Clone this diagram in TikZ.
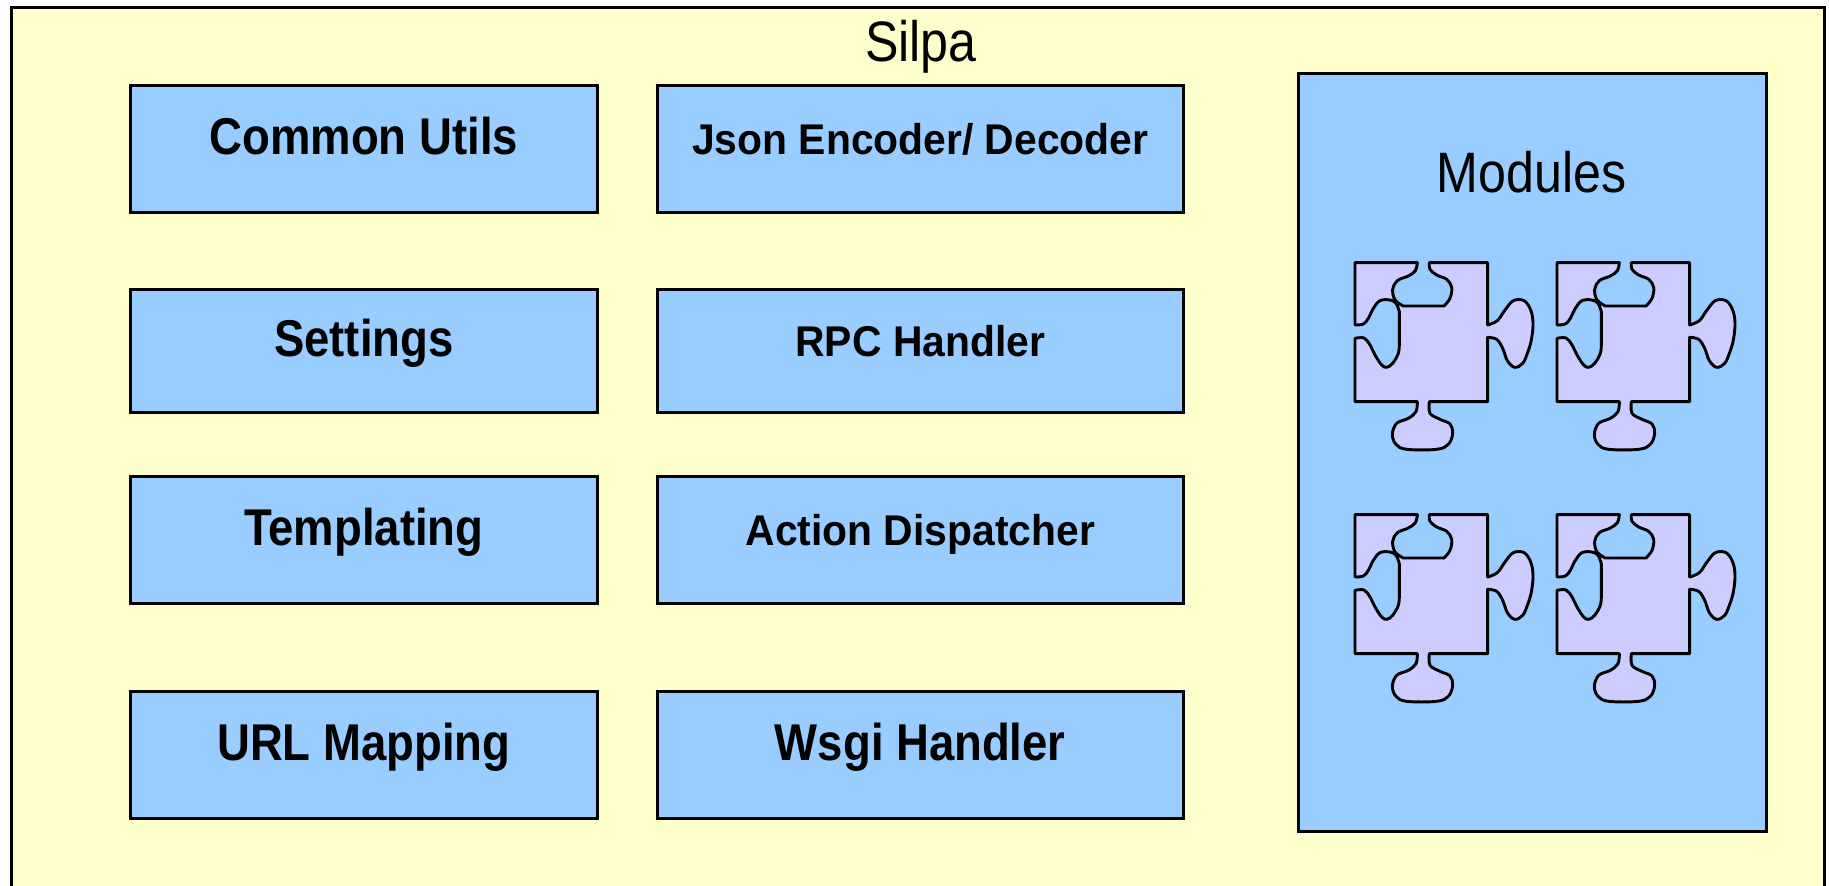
\documentclass[tikz,border=0pt]{standalone}
\usepackage{fontspec}
\usepackage{graphicx}
\setmainfont{Liberation Sans}
\definecolor{bgyellow}{HTML}{FFFFCC}
\definecolor{boxblue}{HTML}{99CCFF}
\definecolor{piecefill}{HTML}{CCCCFF}
\newcommand{\bigtxt}[1]{\scalebox{0.88}[1]{\fontsize{25.85}{30}\selectfont\bfseries #1}}
\newcommand{\smalltxt}[1]{\scalebox{0.95}[1]{\fontsize{21.5}{26}\selectfont\bfseries #1}}
\newcommand{\titletxt}[1]{\scalebox{0.88}[1]{\fontsize{28.5}{34}\selectfont #1}}
\tikzset{
  comp/.style={draw=black, line width=1.3pt, fill=boxblue, rectangle, inner sep=0pt, anchor=north west},
  leftcol/.style={minimum width=233.5pt},
  midcol/.style={minimum width=263pt},
  rowbox/.style={minimum height=63.5pt},
  lbl/.style={anchor=base, inner sep=0pt},
  piece/.style={draw=black, line width=1.45pt, fill=piecefill, line join=round},
  puzzle/.pic={
    \begin{scope}[scale=0.33333]
    \path[piece] (45,38) -- (232,38)
      -- plot[smooth, tension=0.6] coordinates {(232,38) (226,62) (205,78) (172,92) (158,118) (165,150) (190,168)}
      -- (312,168)
      -- plot[smooth, tension=0.6] coordinates {(312,168) (330,145) (335,112) (320,88) (290,75) (270,58) (268,38)}
      -- (443,38) -- (443,225)
      -- plot[smooth, tension=0.6] coordinates {(443,225) (472,212) (495,180) (520,152) (552,152) (572,180) (579,220) (574,270) (562,310) (548,340) (524,352) (502,332) (488,295) (470,268) (443,262)}
      -- (443,455) -- (268,455)
      -- plot[smooth, tension=0.6] coordinates {(268,455) (270,490) (300,508) (330,522) (338,550) (325,583) (290,598) (200,598) (168,583) (157,553) (170,520) (205,505) (228,485) (232,455)}
      -- (45,455) -- (45,265)
      -- plot[smooth, tension=0.6] coordinates {(45,265) (72,264) (90,285) (105,315) (125,345) (140,352) (158,340) (175,310) (178,280)}
      -- (178,185)
      -- plot[smooth, tension=0.6] coordinates {(178,185) (168,160) (150,150) (120,152) (100,175) (85,205) (70,222) (45,225)}
      -- cycle;
    \end{scope}
  }
}
\begin{document}
\begin{tikzpicture}[x=0.5pt,y=-0.5pt]
\clip (0,0) rectangle (1829,886);
\fill[white] (0,0) rectangle (1829,886);
\draw[line width=1.5pt, fill=bgyellow] (11,8) rectangle (1824,900);
\node[lbl] (title) at (921,62) {\titletxt{Silpa}};
% left column
\node[comp, leftcol, rowbox] (cu) at (129,84) {};
\node[comp, leftcol, minimum height=61.5pt] (set) at (129,288) {};
\node[comp, leftcol, rowbox] (tpl) at (129,475) {};
\node[comp, leftcol, rowbox] (url) at (129,690) {};
% middle column
\node[comp, midcol, rowbox] (json) at (656,84) {};
\node[comp, midcol, minimum height=61.5pt] (rpc) at (656,288) {};
\node[comp, midcol, rowbox] (act) at (656,475) {};
\node[comp, midcol, rowbox] (wsgi) at (656,690) {};
% labels
\node[lbl] (cut) at ([yshift=-2.75pt]cu.center) {\bigtxt{Common Utils}};
\node[lbl] (sett) at ([yshift=-2.75pt]set.center) {\bigtxt{Settings}};
\node[lbl] (tplt) at ([yshift=-2.75pt]tpl.center) {\bigtxt{Templating}};
\node[lbl] (urlt) at ([yshift=-2.75pt]url.center) {\bigtxt{URL Mapping}};
\node[lbl] (jsont) at ([yshift=-2.75pt]json.center) {\smalltxt{Json Encoder/ Decoder}};
\node[lbl] (rpct) at ([yshift=-2.75pt]rpc.center) {\smalltxt{RPC Handler}};
\node[lbl] (actt) at ([yshift=-2.75pt]act.center) {\smalltxt{Action Dispatcher}};
\node[lbl] (wsgit) at ([yshift=-2.75pt]wsgi.center) {\bigtxt{Wsgi Handler}};
% modules
\node[comp, minimum width=234pt, minimum height=379pt] (mod) at (1297,72) {};
\node[lbl] (modt) at (1531.5,193) {\titletxt{Modules}};
\pic (p1) at (1340,250) {puzzle};
\pic (p2) at (1542,250) {puzzle};
\pic (p3) at (1340,502) {puzzle};
\pic (p4) at (1542,502) {puzzle};
\end{tikzpicture}
\end{document}
